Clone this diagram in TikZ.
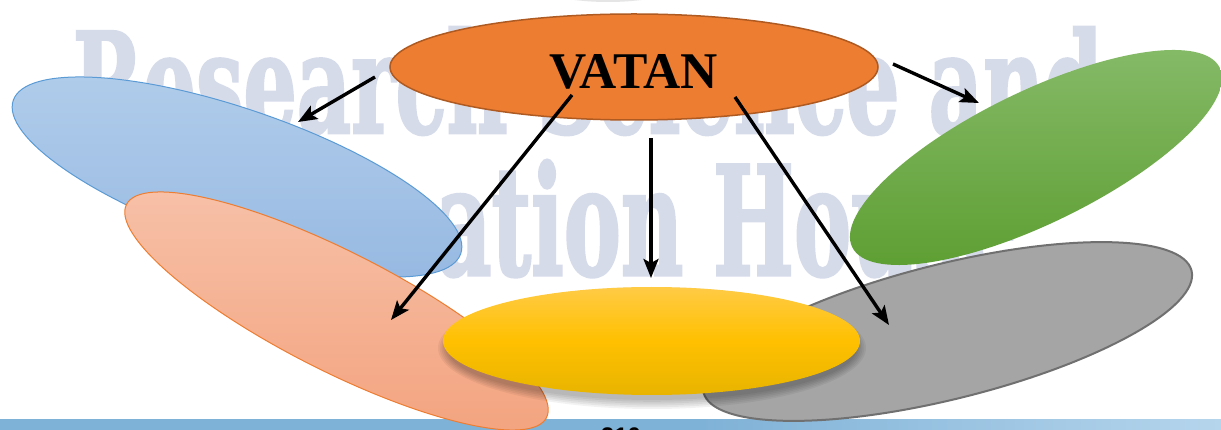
\documentclass[tikz,border=0pt]{standalone}
\usepackage{fontspec}
\setmainfont{Liberation Serif}
\setsansfont{Liberation Sans}
\newfontfamily\wmfont{DejaVu Serif Condensed}[BoldFeatures={FakeBold=2}]
\usetikzlibrary{shapes.geometric,arrows.meta}
\definecolor{orangeF}{HTML}{ED7D31}
\definecolor{orangeD}{HTML}{AE5A21}
\definecolor{blueL}{HTML}{B1CDEB}
\definecolor{blueD}{HTML}{96B8E1}
\definecolor{blueO}{HTML}{5B9BD5}
\definecolor{salL}{HTML}{F7C2AA}
\definecolor{salD}{HTML}{F3A27D}
\definecolor{salO}{HTML}{ED7D31}
\definecolor{greenL}{HTML}{87BB6A}
\definecolor{greenD}{HTML}{5E9F33}
\definecolor{grayF}{HTML}{A5A5A5}
\definecolor{grayO}{HTML}{707070}
\definecolor{yelT}{HTML}{FFCB45}
\definecolor{yelM}{HTML}{FFC000}
\definecolor{yelB}{HTML}{E8B400}
\definecolor{wmc}{HTML}{D6DBEA}
\definecolor{barL}{HTML}{7FB2D7}
\definecolor{barR}{HTML}{B5D5EC}
\tikzset{
  blob/.style={ellipse, inner sep=0pt, outer sep=0pt},
  arr/.style={line width=3.4pt, draw=black, -{Stealth[length=19pt,width=15pt,inset=4pt]}},
  wmtext/.style={inner sep=0pt, outer sep=0pt, text=wmc, anchor=base west}
}
\begin{document}
\begin{tikzpicture}[x=1pt,y=-1pt]
\useasboundingbox (0,0) rectangle (1221,430);
\clip (0,0) rectangle (1221,430);
\fill[white] (0,0) rectangle (1221,430);
% bottom bar and page number
\fill[barL] (0,419) rectangle (700,432);
\shade[left color=barL, right color=barR] (700,419) rectangle (1222,432);
\node[font=\sffamily\bfseries\fontsize{24}{24}\selectfont, anchor=base, inner sep=0pt] (pg) at (621,444) {210};
% faint shape at top
\fill[black!10] (608,-30) ellipse [x radius=95, y radius=32];
% watermark
\node[wmtext] (wm1) at (73,133) {\resizebox{1029pt}{106pt}{\wmfont\bfseries Research Science and}};
\node[wmtext] (wm2) at (436,275) {\resizebox{580pt}{115pt}{\wmfont\bfseries ation House}};
% ellipses
\node[blob, minimum width=473pt, minimum height=136pt, rotate=-18.9,
      top color=blueL, bottom color=blueD, draw=blueO, line width=1pt] (blue) at (237,177) {};
\node[blob, minimum width=471pt, minimum height=119pt, rotate=-26.9,
      top color=salL, bottom color=salD, draw=salO, line width=1pt] (sal) at (336.5,311) {};
\node[blob, minimum width=503pt, minimum height=135pt, rotate=14,
      fill=grayF, draw=grayO, line width=2pt] (gray) at (947.5,331.5) {};
\node[blob, minimum width=409pt, minimum height=132pt, rotate=26,
      top color=greenL, bottom color=greenD] (green) at (1036,157.5) {};
% yellow shadow
\foreach \i in {0,...,5}{
  \fill[black, opacity=0.05] (652,348) ellipse [x radius={205+1.8*\i}, y radius={52+1.8*\i}];
}
\node[blob, minimum width=417pt, minimum height=108pt,
      top color=yelT, bottom color=yelB, middle color=yelM] (yel) at (651.5,341) {};
% central ellipse
\node[blob, minimum width=488pt, minimum height=106pt,
      fill=orangeF, draw=orangeD, line width=1.5pt] (vatan) at (634,67) {};
\node[anchor=base, inner sep=0pt, font=\bfseries\fontsize{51.5}{52}\selectfont] (vt) at (633.5,89) {VATAN};
% arrows
\coordinate (s1) at (375,77);   \coordinate (t1) at (298,122);
\coordinate (s2) at (572,95);   \coordinate (t2) at (391,320);
\coordinate (s3) at (651,138);  \coordinate (t3) at (651,278);
\coordinate (s4) at (735,97);   \coordinate (t4) at (889,325);
\coordinate (s5) at (893,64);   \coordinate (t5) at (979,103);
\draw[arr] (s1) -- (t1);
\draw[arr] (s2) -- (t2);
\draw[arr] (s3) -- (t3);
\draw[arr] (s4) -- (t4);
\draw[arr] (s5) -- (t5);
\end{tikzpicture}
\end{document}
